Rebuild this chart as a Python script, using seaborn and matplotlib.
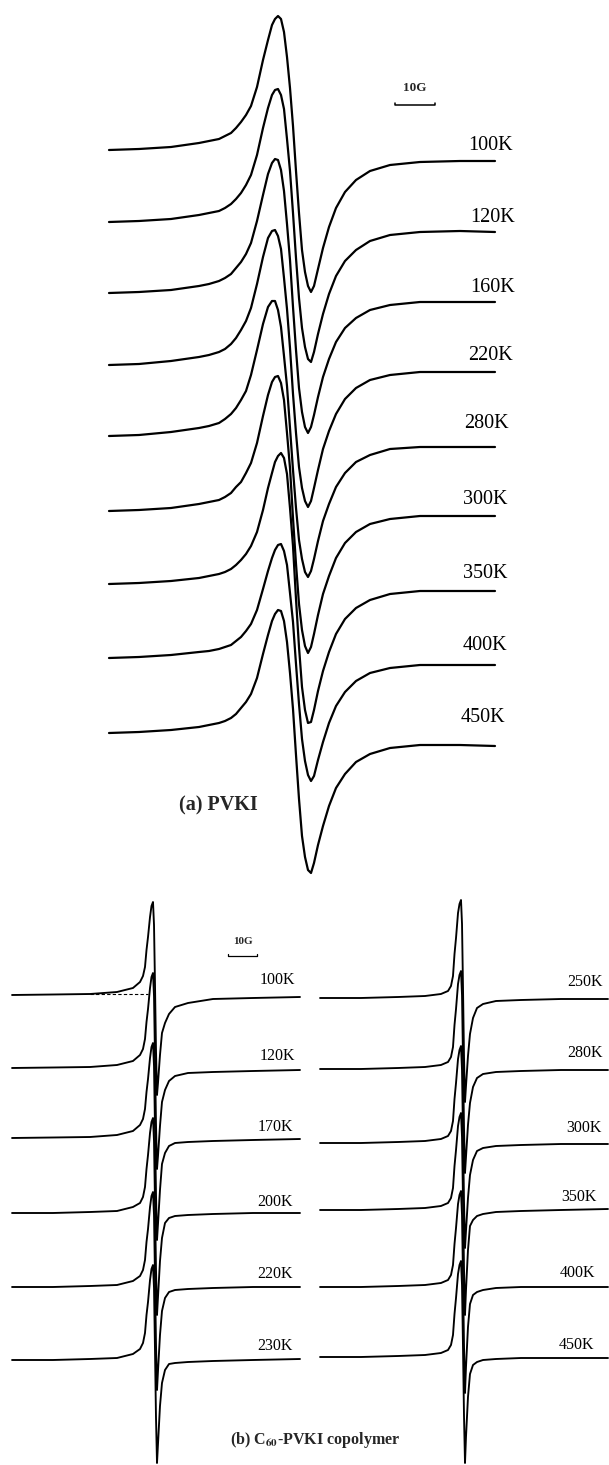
import numpy as np
import pandas as pd
import matplotlib
matplotlib.use("Agg")
import matplotlib.pyplot as plt
import seaborn as sns

sns.set_style("white")
plt.rcParams['font.family'] = ['Liberation Serif', 'DejaVu Serif']
plt.rcParams['mathtext.fontset'] = 'stix'

# ---------------- Panel (a): PVKI, field offset (G) and derivative signal (a.u.) ----------------
field_a = [-46.5, -39, -31, -24, -21.5, -19, -17.5, -16, -14.75, -13.5, -12.25, -11, -9.5, -8,
           -6.75, -5.75, -5, -4.25, -3.5, -2.75, -2, -1.25, -0.5, 0.25, 1, 1.75, 2.5, 3.25, 4,
           4.75, 5.75, 7, 8.5, 10.25, 12.5, 15.25, 18.75, 23.75, 31.25, 41.25, 50]
labels_a = ["100K", "120K", "160K", "220K", "280K", "300K", "350K", "400K", "450K"]
offsets_a = [0, -72, -143, -215, -286, -361, -434, -508, -583]
pvki_100K = [0, 1, 3, 7, 9, 11, 14, 17, 22, 28, 35, 44, 63, 90, 110, 125, 131, 134, 131, 118, 93,
             62, 24, -21, -63, -100, -122, -136, -142, -136, -119, -98, -77, -58, -42, -30, -21,
             -15, -12, -11, -11]
pvki_120K = [0, 1, 3, 7, 9, 11, 14, 18, 23, 29, 37, 47, 67, 94, 114, 127, 132, 133, 127, 113, 83,
             51, 9, -36, -76, -106, -125, -137, -140, -130, -112, -92, -72, -54, -39, -28, -19,
             -13, -10, -9, -10]
pvki_160K = [0, 1, 3, 7, 9, 12, 15, 19, 25, 31, 39, 50, 72, 98, 119, 130, 134, 133, 123, 102, 69,
             33, -14, -57, -95, -119, -134, -140, -134, -122, -104, -84, -66, -49, -35, -25, -17,
             -12, -9, -9, -9]
pvki_220K = [0, 1, 4, 8, 10, 13, 16, 21, 27, 35, 44, 57, 81, 108, 127, 134, 135, 129, 116, 87, 56,
             17, -29, -68, -102, -123, -136, -142, -136, -123, -105, -84, -66, -49, -34, -23, -15,
             -10, -7, -7, -7]
pvki_280K = [0, 1, 4, 8, 10, 13, 17, 22, 28, 36, 45, 61, 86, 112, 129, 135, 135, 126, 109, 80, 50,
             8, -34, -72, -104, -123, -136, -141, -135, -123, -105, -85, -68, -51, -37, -26, -19,
             -13, -11, -11, -11]
pvki_300K = [0, 1, 3, 7, 9, 11, 14, 18, 24, 29, 38, 48, 68, 95, 116, 129, 134, 135, 128, 111, 78,
             43, -7, -53, -93, -119, -135, -142, -136, -123, -104, -83, -65, -47, -32, -21, -13,
             -8, -5, -5, -5]
pvki_350K = [0, 1, 3, 6, 8, 10, 12, 15, 19, 24, 30, 38, 52, 74, 96, 111, 122, 128, 131, 126, 110,
             76, 38, -15, -63, -103, -126, -139, -138, -126, -107, -87, -68, -50, -35, -24, -16,
             -10, -7, -7, -7]
pvki_400K = [0, 1, 3, 6, 7, 9, 11, 13, 17, 21, 27, 34, 48, 69, 87, 100, 108, 113, 114, 107, 93,
             65, 36, -6, -46, -81, -103, -117, -123, -118, -102, -84, -65, -48, -34, -23, -15,
             -10, -7, -7, -7]
pvki_450K = [0, 1, 3, 6, 8, 10, 12, 15, 19, 25, 31, 39, 55, 79, 98, 112, 119, 123, 122, 112, 91,
             60, 24, -22, -66, -103, -124, -137, -140, -130, -112, -93, -73, -55, -41, -29, -21,
             -15, -12, -12, -13]
traces_a = [pvki_100K, pvki_120K, pvki_160K, pvki_220K, pvki_280K, pvki_300K, pvki_350K,
            pvki_400K, pvki_450K]

# ---------------- Panel (b): C60-PVKI copolymer ----------------
field_b = [-49.3, -35.2, -22.4, -13.1, -7.6, -5.17, -4.14, -3.45, -2.93, -2.41, -1.72, -1.21, -0.69,
           -0.34, 0.0, 0.34, 0.69, 1.03, 1.72, 2.41, 3.45, 4.83, 6.9, 11.38, 20.0, 33.79, 50.0]
labels_b_left = ["100K", "120K", "170K", "200K", "220K", "230K"]
labels_b_right = ["250K", "280K", "300K", "350K", "400K", "450K"]
offsets_b_left = [0, -73, -143, -218, -292, -365]
offsets_b_right = [-3, -74, -148, -215, -292, -362]
cop_100K = [0, 0.5, 1, 3, 7, 13, 19, 28, 45, 58, 78, 89, 93, 70, 10, -55, -100, -88, -60, -38, -28,
            -19, -12, -8, -4, -3, -2]
cop_120K = [0, 0.5, 1, 3, 7, 13, 19, 29, 46, 59, 80, 91, 95, 72, 10, -56, -101, -88, -58, -34, -22,
            -13, -8, -5, -4, -3, -2]
cop_170K = [0, 0.5, 1, 3, 7, 13, 19, 29, 46, 59, 80, 91, 95, 72, 10, -56, -102, -86, -52, -26, -15,
            -8, -5, -4, -3, -2, -1]
cop_200K = [0, 0, 1, 2, 6, 10, 16, 26, 44, 58, 80, 91, 95, 72, 10, -56, -102, -84, -48, -25, -10,
            -5, -3, -2, -1, 0, 0]
cop_220K = [0, 0, 1, 2, 6, 11, 17, 27, 45, 58, 80, 91, 95, 72, 10, -57, -103, -84, -48, -24, -11,
            -5, -3, -2, -1, 0, 0]
cop_230K = [0, 0, 1, 2, 6, 11, 17, 27, 45, 58, 80, 91, 95, 72, 10, -57, -103, -84, -46, -23, -10,
            -4, -3, -2, -1, 0, 1]
cop_250K = [0, 0, 1, 2, 4, 7, 12, 22, 44, 60, 85, 94, 98, 74, 10, -58, -104, -88, -58, -36, -20,
            -10, -6, -3, -2, -1, -1]
cop_280K = [0, 0, 1, 2, 4, 7, 12, 22, 44, 60, 85, 94, 98, 74, 10, -58, -104, -88, -56, -34, -18,
            -9, -5, -3, -2, -1, -1]
cop_300K = [0, 0, 1, 2, 4, 7, 12, 22, 44, 60, 84, 93, 97, 73, 10, -58, -105, -88, -55, -32, -17,
            -8, -5, -3, -2, -1, -1]
cop_350K = [0, 0, 1, 2, 4, 7, 12, 22, 44, 60, 84, 93, 97, 73, 10, -58, -105, -80, -40, -16, -10,
            -6, -4, -2, -1, 0, 1]
cop_400K = [0, 0, 1, 2, 4, 7, 12, 22, 43, 59, 83, 92, 96, 72, 10, -58, -106, -80, -40, -17, -8,
            -5, -3, -1, 0, 0, 0]
cop_450K = [0, 0, 1, 2, 4, 7, 12, 22, 43, 59, 83, 92, 96, 72, 10, -58, -106, -80, -40, -17, -8,
            -5, -3, -2, -1, -1, -1]
traces_b_left = [cop_100K, cop_120K, cop_170K, cop_200K, cop_220K, cop_230K]
traces_b_right = [cop_250K, cop_280K, cop_300K, cop_350K, cop_400K, cop_450K]

# ---------------- figure ----------------
W, H = 609, 1465
fig = plt.figure(figsize=(W / 100, H / 100), dpi=100)
fig.patch.set_facecolor("white")

split = 880  # pixel row separating the panels
ax_a = fig.add_axes([0, 1 - split / H, 1, split / H])
ax_bl = fig.add_axes([0, 0, 305 / W, (H - split) / H])
ax_br = fig.add_axes([305 / W, 0, 304 / W, (H - split) / H])


def draw(ax, field, traces, offsets, lw):
    for vals, off in zip(traces, offsets):
        df = pd.DataFrame({"field": field, "signal": np.asarray(vals, float) + off})
        sns.lineplot(data=df, x="field", y="signal", ax=ax, color="black", lw=lw,
                     sort=False, estimator=None, solid_joinstyle="round")


draw(ax_a, field_a, traces_a, offsets_a, 1.6)
draw(ax_bl, field_b, traces_b_left, offsets_b_left, 1.35)
draw(ax_br, field_b, traces_b_right, offsets_b_right, 1.35)

ax_a.set_xlim(-73.75, 78.5)
ax_a.set_ylim(150 - split, 150)
ax_bl.set_xlim(-155 / 2.9, 150 / 2.9)
ax_br.set_xlim(-158 / 2.9, 146 / 2.9)
for ax in (ax_bl, ax_br):
    ax.set_ylim(995 - H, 995 - split)
for ax in (ax_a, ax_bl, ax_br):
    ax.set_axis_off()

# temperature labels, panel (a)
lab_a_x = [54.5, 55, 55, 54.5, 53.5, 53, 53, 53, 52.5]
lab_a_y = [5, -68, -137, -205, -273, -349, -423, -496, -568]
for t, x, y in zip(labels_a, lab_a_x, lab_a_y):
    ax_a.text(x, y, t, ha="right", va="center", fontsize=14.5, color="black")

# temperature labels, panel (b)
lab_bl_x = [48.3, 48.3, 47.6, 47.6, 47.6, 47.6]
lab_bl_y = [15, -61, -132, -207, -279, -351]
for t, x, y in zip(labels_b_left, lab_bl_x, lab_bl_y):
    ax_bl.text(x, y, t, ha="right", va="center", fontsize=11.5, color="black")
lab_br_x = [48.3, 48.3, 47.9, 46.2, 45.5, 45.2]
lab_br_y = [13, -58, -133, -202, -278, -350]
for t, x, y in zip(labels_b_right, lab_br_x, lab_br_y):
    ax_br.text(x, y, t, ha="right", va="center", fontsize=11.5, color="black")

# 10 G scale bars
ax_a.plot([25, 25, 35, 35], [47.5, 45, 45, 47.5], color="black", lw=1.1)
ax_a.text(30, 62, "10G", ha="center", va="center", fontsize=9.5, fontweight="bold")
ax_bl.plot([25.2, 25.2, 35.2, 35.2], [41, 39, 39, 41], color="black", lw=0.9)
ax_bl.text(30.2, 54, "10G", ha="center", va="center", fontsize=8, fontweight="bold")

# dashed baseline under the 100K copolymer line
ax_bl.plot([-22.4, -2.4], [1, 1], color="black", lw=0.8, ls=(0, (3, 2)))

# panel captions
fig.text(218 / W, 1 - 805 / H, "(a) PVKI", ha="center", va="center",
         fontsize=14.5, fontweight="bold")
fig.text(315 / W, 1 - 1440 / H, r"(b) C$_{\mathbf{60}}$-PVKI copolymer", ha="center",
         va="center", fontsize=11.5, fontweight="bold")

fig.savefig("out.png", dpi=100, facecolor="white")
